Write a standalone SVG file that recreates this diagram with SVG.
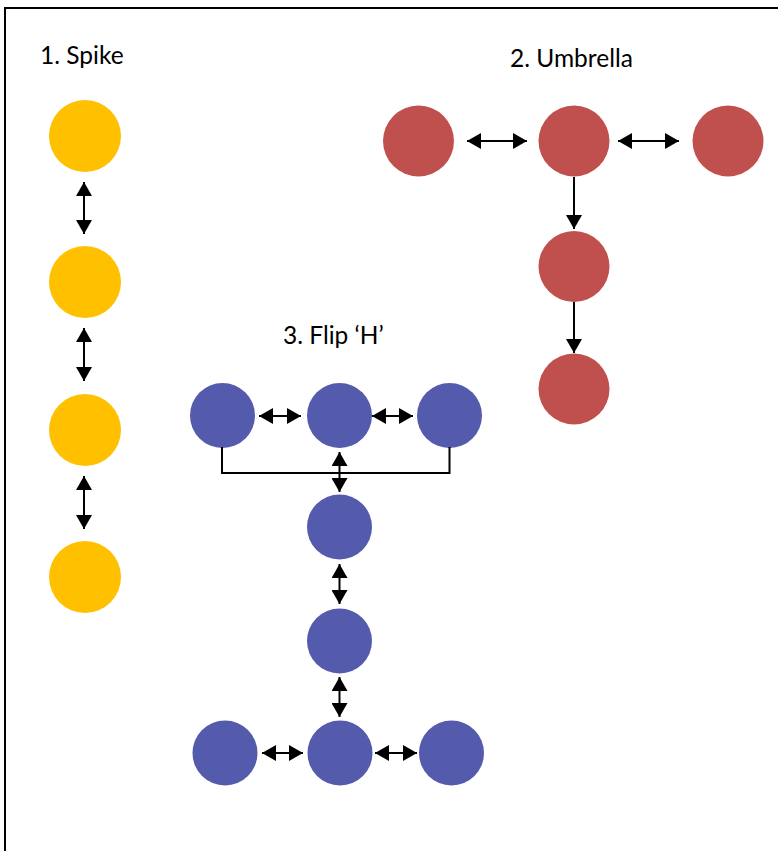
<svg xmlns="http://www.w3.org/2000/svg" width="778" height="851" viewBox="0 0 778 851">
  <style>
    .title { font-family: Lato, "Open Sans", "Liberation Sans", sans-serif; font-size: 24.5px; fill: #000; }
    .spike { fill: #FFC000; }
    .umb { fill: #C0504D; }
    .flip { fill: #555BAC; }
    .link { stroke: #000; stroke-width: 2; fill: none; }
    .one { marker-end: url(#head); }
    .two { marker-start: url(#head); marker-end: url(#head); }
  </style>
  <defs>
    <marker id="head" viewBox="0 0 14 16" refX="14" refY="8" markerWidth="14" markerHeight="16" markerUnits="userSpaceOnUse" orient="auto-start-reverse">
      <path d="M0,0 L14,8 L0,16 z" fill="#000"/>
    </marker>
  </defs>

  <rect x="0" y="0" width="778" height="851" fill="#fff"/>
  <rect x="5" y="8" width="800" height="900" fill="none" stroke="#000" stroke-width="2"/>

  <!-- Titles -->
  <text class="title" x="40" y="64">1. Spike</text>
  <text class="title" x="510" y="67">2. Umbrella</text>
  <text class="title" x="283" y="344">3. Flip ‘H’</text>

  <!-- 1. Spike -->
  <g id="spike-1"><circle class="spike" cx="85" cy="136" r="36"/></g>
  <g id="spike-2"><circle class="spike" cx="85" cy="282" r="36"/></g>
  <g id="spike-3"><circle class="spike" cx="85" cy="430" r="36"/></g>
  <g id="spike-4"><circle class="spike" cx="85" cy="577" r="36"/></g>

  <!-- 2. Umbrella -->
  <g id="umbrella-left"><circle class="umb" cx="418.5" cy="141" r="35.5"/></g>
  <g id="umbrella-centre"><circle class="umb" cx="574" cy="141" r="35.5"/></g>
  <g id="umbrella-right"><circle class="umb" cx="728" cy="141" r="35.5"/></g>
  <g id="umbrella-mid"><circle class="umb" cx="574" cy="266.5" r="35.5"/></g>
  <g id="umbrella-bottom"><circle class="umb" cx="574" cy="389" r="35.5"/></g>

  <!-- 3. Flip 'H' -->
  <g id="flip-top-left"><circle class="flip" cx="222.5" cy="415.5" r="32.5"/></g>
  <g id="flip-top-centre"><circle class="flip" cx="339.5" cy="415.5" r="32.5"/></g>
  <g id="flip-top-right"><circle class="flip" cx="449.5" cy="415.5" r="32.5"/></g>
  <g id="flip-stem-1"><circle class="flip" cx="339.5" cy="527" r="32.5"/></g>
  <g id="flip-stem-2"><circle class="flip" cx="339.5" cy="641" r="32.5"/></g>
  <g id="flip-bottom-left"><circle class="flip" cx="225" cy="753" r="32.5"/></g>
  <g id="flip-bottom-centre"><circle class="flip" cx="340" cy="753" r="32.5"/></g>
  <g id="flip-bottom-right"><circle class="flip" cx="451.5" cy="753" r="32.5"/></g>

  <g id="connectors">
    <!-- spike chain -->
    <line class="link two" x1="84" y1="182" x2="84" y2="234"/>
    <line class="link two" x1="84" y1="328" x2="84" y2="381"/>
    <line class="link two" x1="84" y1="476" x2="84" y2="529"/>

    <!-- umbrella -->
    <line class="link two" x1="467" y1="141" x2="527" y2="141"/>
    <line class="link two" x1="618" y1="141" x2="679" y2="141"/>
    <line class="link one" x1="574" y1="177" x2="574" y2="229"/>
    <line class="link one" x1="574" y1="302" x2="574" y2="353"/>

    <!-- flip H: top row -->
    <line class="link two" x1="259" y1="416" x2="301" y2="416"/>
    <line class="link two" x1="372" y1="416" x2="413" y2="416"/>
    <path class="link" d="M222,447 V473 H449.5 V447"/>
    <line class="link two" x1="339.5" y1="452" x2="339.5" y2="492"/>

    <!-- flip H: stem -->
    <line class="link two" x1="339.5" y1="564" x2="339.5" y2="604"/>
    <line class="link two" x1="339.5" y1="677" x2="339.5" y2="717"/>

    <!-- flip H: bottom row -->
    <line class="link two" x1="262" y1="753" x2="303" y2="753"/>
    <line class="link two" x1="375" y1="753" x2="417" y2="753"/>
  </g>
</svg>
